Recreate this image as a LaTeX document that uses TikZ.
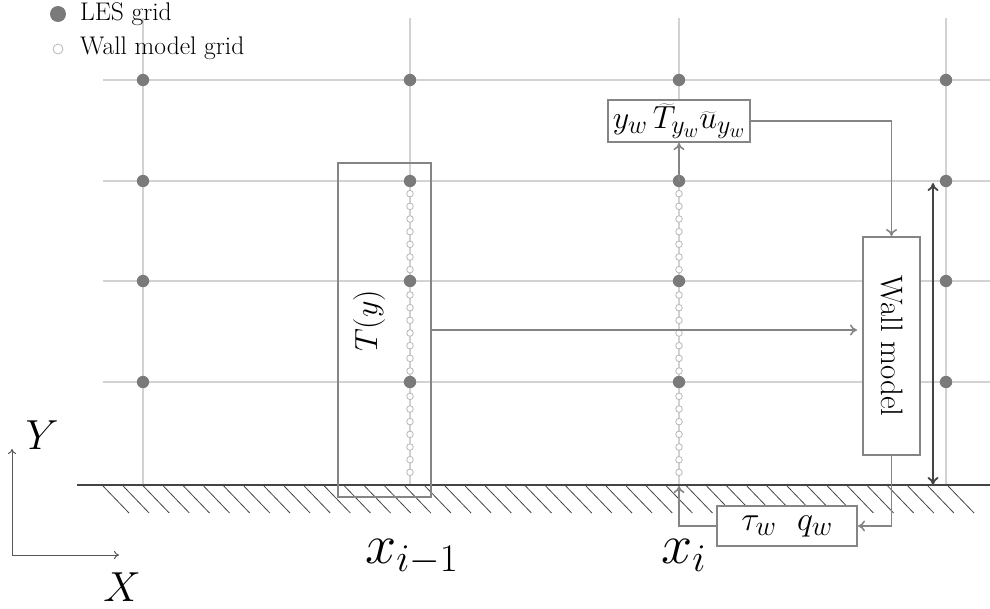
\RequirePackage{fix-cm}
\documentclass[tikz,border=0pt]{standalone}
\usetikzlibrary{arrows.meta,calc}
\DeclareMathSizes{32}{32}{26}{20}
\DeclareMathSizes{34}{34}{28}{22}
\definecolor{gridc}{HTML}{D2D2D2}
\definecolor{dotc}{HTML}{7A7A7A}
\definecolor{wmc}{HTML}{B8B8B8}
\definecolor{boxc}{HTML}{858585}
\definecolor{wallc}{HTML}{444444}
\tikzset{
  gridline/.style={draw=gridc, line width=1.2pt},
  lesdot/.style={fill=dotc},
  wmcirc/.style={draw=wmc, fill=white, line width=0.8pt},
  boxbase/.style={draw=boxc, line width=2pt, inner sep=0pt},
  wbox/.style={boxbase, fill=white},
  conn/.style={draw=boxc, line width=1.6pt, -{To[length=7pt,width=11pt]}},
  wallline/.style={draw=wallc, line width=2.2pt},
  hatchline/.style={draw=wallc, line width=0.8pt},
  dimarrow/.style={draw=wallc, line width=1.8pt, {To[length=8pt,width=11pt]}-{To[length=8pt,width=11pt]}},
  axis/.style={draw=wallc!90, line width=1pt, -{To[length=5pt,width=8pt]}},
  legtext/.style={anchor=west, inner sep=0pt, font=\fontsize{25.5}{28}\selectfont},
}
\begin{document}
\begin{tikzpicture}[x=1pt,y=-1pt]
\useasboundingbox (0,0) rectangle (990,608);

% grid lines
\foreach \yy in {80,181,281,382} \draw[gridline] (103,\yy) -- (990,\yy);
\foreach \xx in {143,410,679,946} \draw[gridline] (\xx,18) -- (\xx,485);

% hatch below wall
\foreach \k in {0,...,42} \draw[hatchline] ({103+20.12*\k},486) -- ++(26,27);

% wall model grid circles
\foreach \xx in {410,679} {
  \foreach \k in {1,...,23} \draw[wmcirc] (\xx,{181+12.667*\k}) circle (3.3);
}

% LES grid points
\foreach \xx [count=\i] in {143,410,679,946} {
  \foreach \yy [count=\j] in {80,181,281,382} {
    \coordinate (p\i\j) at (\xx,\yy);
    \fill[lesdot] (p\i\j) circle (6.2);
  }
}

% wall
\coordinate (wallL) at (77,485);
\coordinate (wallR) at (990,485);
\draw[wallline] (wallL) -- (wallR);

% boxes
\node[boxbase, minimum width=93pt, minimum height=334pt] (Tbox) at (384.5,330) {};
\node[rotate=90, font=\fontsize{32}{36}\selectfont] (Tlabel) at (369,321) {$T(y)$};

\node[wbox, minimum width=57pt, minimum height=218pt] (wallbox) at (891.5,346) {};
\node[rotate=-90, font=\fontsize{31}{34}\selectfont] (wlabel) at (892,346) {Wall model};

\node[wbox, minimum width=142pt, minimum height=42pt, font=\fontsize{32}{36}\selectfont] (topbox) at (679,121)
  {$y_w\,\widetilde{T}_{y_w}\widetilde{u}_{y_w}$};

\node[wbox, minimum width=140pt, minimum height=40pt, font=\fontsize{34}{38}\selectfont] (taubox) at (787,526)
  {$\tau_w\ \ q_w$};

% connectors
\draw[conn, shorten >=5pt] (Tbox.east) -- (Tbox.east -| wallbox.west);
\draw[conn] (p32) -- (topbox.south);
\draw[conn] (topbox.east) -| (wallbox.north);
\draw[conn] (wallbox.south) |- (taubox.east);
\coordinate (wallpt) at (679,486);
\draw[conn] (taubox.west) -| (wallpt);

% dimension arrow
\coordinate (dtop) at (933,183);
\coordinate (dbot) at (933,485);
\draw[dimarrow] (dtop) -- (dbot);

% axes
\coordinate (origin) at (12,555);
\coordinate (yend) at (12,449);
\coordinate (xend) at (119,555);
\draw[axis] (origin) -- (yend);
\draw[axis] (origin) -- (xend);
\node[anchor=base, inner sep=0pt, font=\fontsize{42}{46}\selectfont] (Ylab) at (42,449) {$Y$};
\node[anchor=base, inner sep=0pt, font=\fontsize{42}{46}\selectfont] (Xlab) at (122,601) {$X$};

% x labels
\node[anchor=base west, inner sep=0pt, font=\fontsize{56}{60}\selectfont] (xim1) at (365,563) {$x_{i-1}$};
\node[anchor=base west, inner sep=0pt, font=\fontsize{56}{60}\selectfont] (xi) at (661,563) {$x_{i}$};

% legend
\fill[lesdot] (58,14) circle (8) coordinate (leg1dot);
\node[legtext] (leg1) at (80,14) {LES grid};
\draw[wmcirc] (58,49) circle (5) coordinate (leg2dot);
\node[legtext] (leg2) at (80,48) {Wall model grid};
\end{tikzpicture}
\end{document}
